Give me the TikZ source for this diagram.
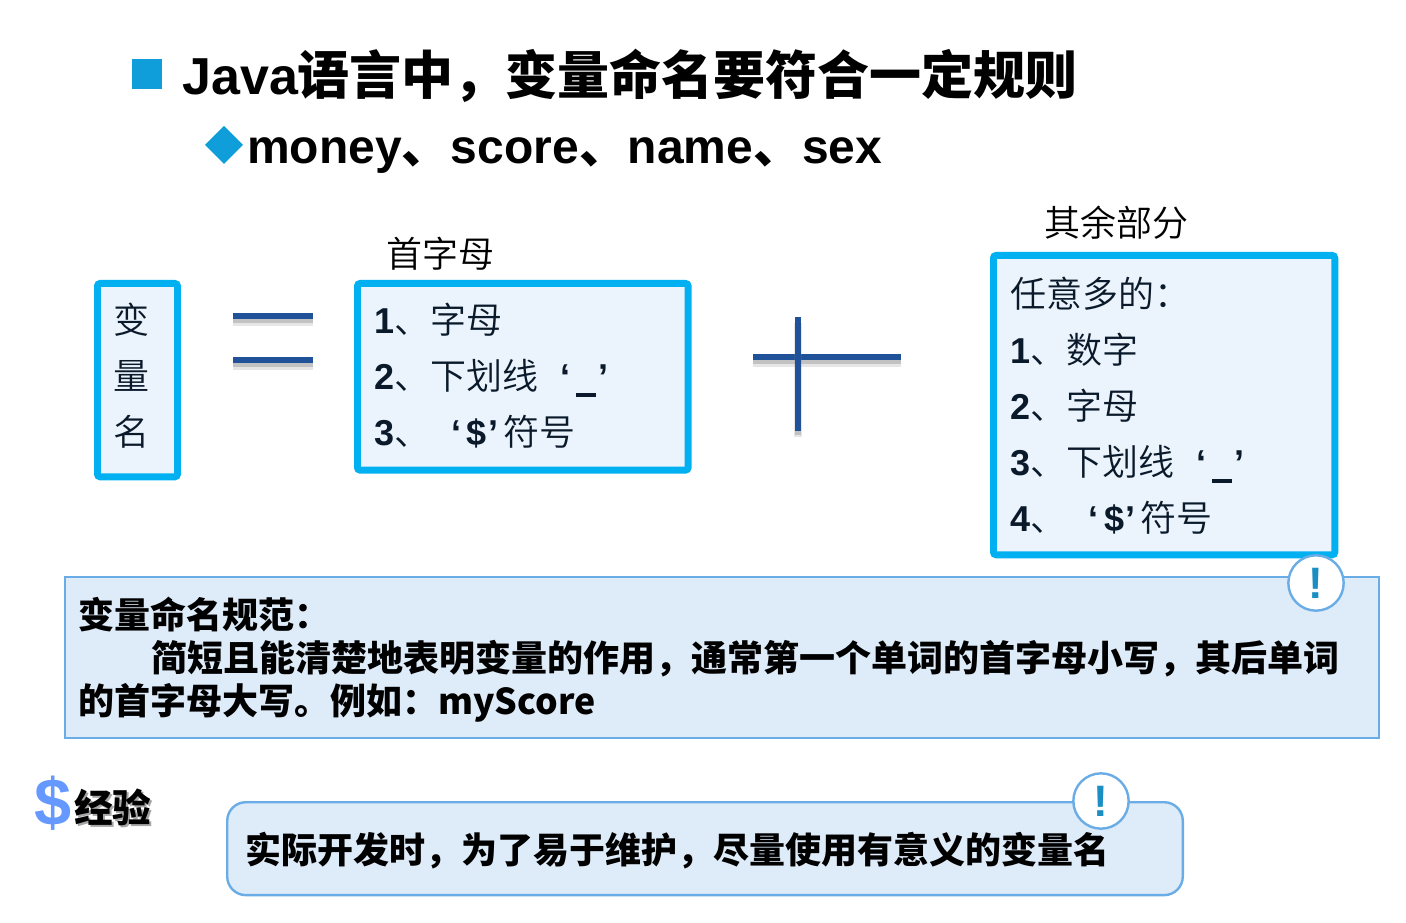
\documentclass[tikz,border=0pt]{standalone}
\usepackage{fontspec}
\usepackage{color}
\setmainfont{Noto Sans CJK SC}
\newfontfamily\latfont{Liberation Sans}
\newfontfamily\thinfont{Noto Sans CJK SC DemiLight}
\newcommand{\lat}[1]{{\latfont\bfseries #1}}
\newcommand{\lowbar}{\lat{‘}\hspace{4pt}\rule[-5.25pt]{15pt}{3pt}\hspace{1.5pt}\lat{’}}
\newcommand{\dollarq}{\lat{‘}\hspace{4pt}\lat{\$}\hspace{1pt}\lat{’}\hspace{4pt}}
\definecolor{boxline}{HTML}{00B0F0}
\definecolor{boxfill}{HTML}{EBF4FC}
\definecolor{notefill}{HTML}{DEEBF9}
\definecolor{noteline}{HTML}{6AADE6}
\definecolor{bullet}{HTML}{0F9ED9}
\definecolor{barblue}{HTML}{1F5299}
\definecolor{inktext}{HTML}{0B1A2B}
\definecolor{markblue}{HTML}{1B8FC4}
\definecolor{dollarblue}{HTML}{6699FF}
\tikzset{
  varbox/.style={draw=boxline, fill=boxfill, line width=5.2pt, rounded corners=2pt, anchor=north west,
    inner sep=0pt},
  boxtext/.style={anchor=north west, inner sep=0pt, align=left, text=inktext, font=\thinfont\fontsize{27}{42}\selectfont},
  capt/.style={anchor=center, font=\thinfont\fontsize{27}{32}\selectfont},
  notebox/.style={draw=noteline, fill=notefill, line width=1.8pt},
  notetext/.style={anchor=north west, inner sep=0pt, align=left, font=\fontsize{27}{32.3}\selectfont\bfseries},
  warncircle/.style={circle, draw=noteline, fill=white, line width=1.8pt, minimum size=41.5pt, inner sep=0pt,
    text=markblue, font=\latfont\bfseries\fontsize{33}{33}\selectfont},
  bar/.style={draw=barblue, line width=4.5pt,
    preaction={draw=gray, opacity=.2, line width=6pt, transform canvas={yshift=-4.5pt}},
    preaction={draw=gray, opacity=.35, line width=4.5pt, transform canvas={yshift=-3pt}}}
}
\begin{document}
\begin{tikzpicture}[x=0.75pt,y=-0.75pt]
\useasboundingbox (0,0) rectangle (1406,923);

% heading lines
\fill[bullet] (132,59) rectangle (162,89);
\fill[bullet] (205,145) -- (224,126) -- (243,145) -- (224,164) -- cycle;
\node[anchor=base west, inner sep=0pt, font=\fontsize{39}{39}\selectfont\bfseries] (title) at (182,95)
  {\lat{Java}语言中，变量命名要符合一定规则};
\node[anchor=base west, inner sep=0pt, font=\fontsize{36}{36}\selectfont\bfseries] (sub) at (247,164)
  {\lat{money}、\kern.7pt\lat{score}、\kern.7pt\lat{name}、\kern.7pt\lat{sex}};

% three boxes
\node[varbox, minimum width=60pt, minimum height=145pt] (name) at (94,280) {};
\node[boxtext] (nametxt) at (113,303) {变\\量\\名};

\node[capt] (firstcap) at (440,254) {首字母};
\node[varbox, minimum width=248pt, minimum height=140pt] (first) at (354,280) {};
\node[boxtext] (firsttxt) at (374,303)
  {\lat{1}、字母\\ \lat{2}、下划线\hspace{17pt}\lowbar\\ \lat{3}、\hspace{16pt}\dollarq 符号};

\node[capt] (restcap) at (1116,223) {其余部分};
\node[varbox, minimum width=256pt, minimum height=224.5pt] (rest) at (990,252) {};
\node[boxtext] (resttxt) at (1010,277)
  {任意多的：\\ \lat{1}、数字\\ \lat{2}、字母\\ \lat{3}、下划线\hspace{17pt}\lowbar\\ \lat{4}、\hspace{17pt}\dollarq 符号};

% equals and plus
\draw[bar] (233,316) -- (313,316);
\draw[bar] (233,360) -- (313,360);
\draw[bar] (753,357) -- (901,357);
\draw[bar] (798,317) -- (798,431);

% note panels
\node[notebox, anchor=north west, minimum width=985.5pt, minimum height=120.7pt, inner sep=0pt] (rule) at (64,576) {};
\node[warncircle] (rulemark) at (1316,583) {!};
\node[notetext] (ruletxt) at (78,597)
  {变量命名规范：\\ \hspace{55pt}简短且能清楚地表明变量的作用，通常第一个单词的首字母小写，其后单词\\ 的首字母大写。例如：{\fontsize{26.7}{32.3}\selectfont myScore}};

\node[font=\latfont\bfseries\fontsize{50}{50}\selectfont, text=dollarblue, inner sep=0pt] (dollar) at (53,803) {\$};
\node[text=gray!70, font=\fontsize{29}{29}\selectfont\bfseries, inner sep=0pt, anchor=west] (expshade) at (76,809) {经验};
\node[font=\fontsize{29}{29}\selectfont\bfseries, inner sep=0pt, anchor=west] (exp) at (74,807) {经验};

\node[notebox, rounded corners=14pt, anchor=north west, minimum width=716.7pt, minimum height=69.7pt, inner sep=0pt] (tip) at (226,801) {};
\node[warncircle] (tipmark) at (1101,801) {!};
\node[notetext, anchor=west] (tiptxt) at (245,851) {实际开发时，为了易于维护，尽量使用有意义的变量名};

\end{tikzpicture}
\end{document}
